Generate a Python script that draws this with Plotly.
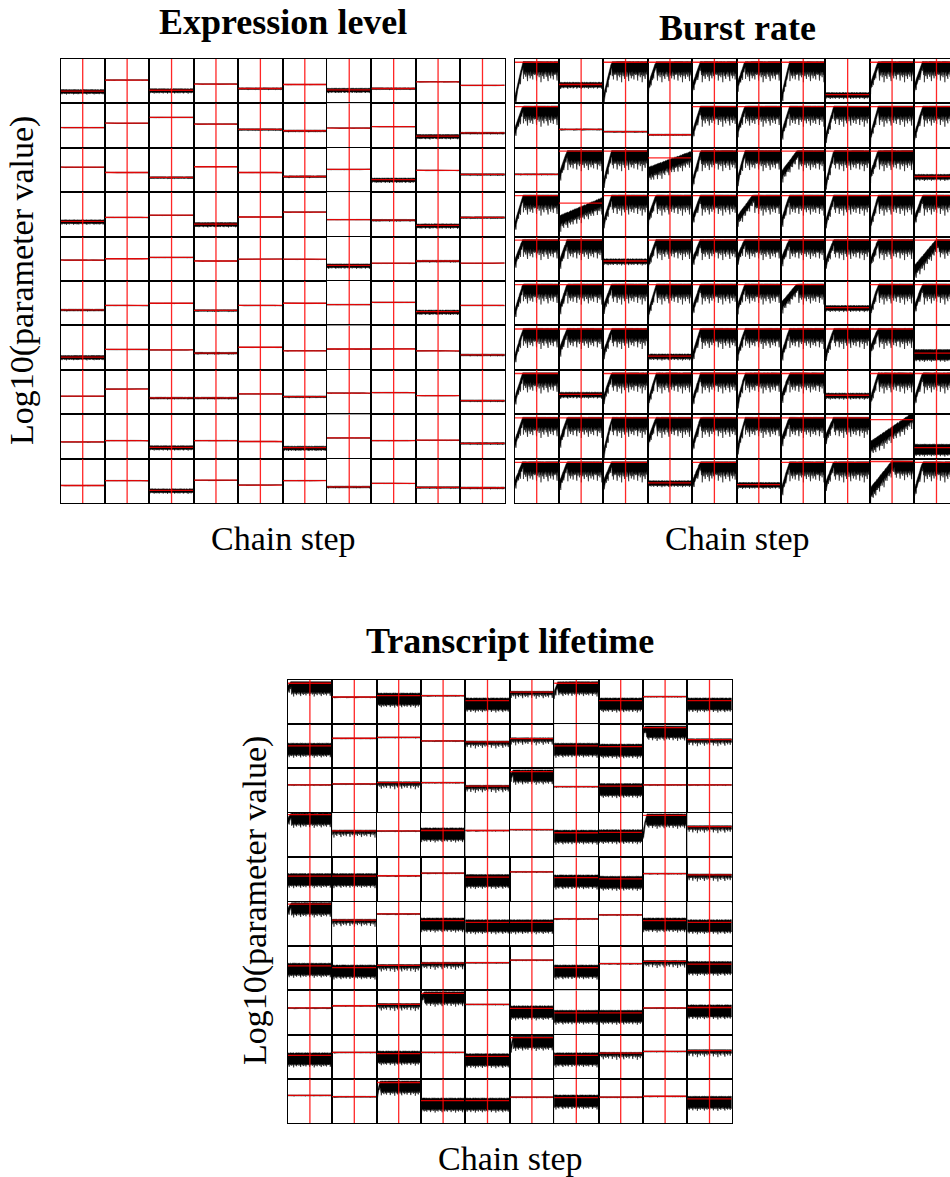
import plotly.graph_objects as go

FIG_W, FIG_H = 950, 1177
N_STEPS = 20000          # length of each MCMC chain
BURN_IN = 10000          # burn-in cut (vertical red line)

# ---------------------------------------------------------------------------
# Data: true parameter values (fraction of the shared log10 axis range) and
# the observed behaviour of each chain, for 10 x 10 genes per parameter.
# ---------------------------------------------------------------------------

EXPR_TRUE = [
    [0.27, 0.52, 0.29, 0.43, 0.33, 0.42, 0.30, 0.33, 0.48, 0.40],
    [0.45, 0.55, 0.68, 0.53, 0.41, 0.38, 0.44, 0.47, 0.26, 0.33],
    [0.56, 0.44, 0.33, 0.57, 0.44, 0.35, 0.51, 0.28, 0.49, 0.40],
    [0.34, 0.43, 0.48, 0.28, 0.44, 0.55, 0.38, 0.37, 0.25, 0.43],
    [0.47, 0.50, 0.53, 0.45, 0.49, 0.49, 0.35, 0.40, 0.45, 0.40],
    [0.35, 0.45, 0.50, 0.34, 0.45, 0.50, 0.47, 0.52, 0.31, 0.45],
    [0.29, 0.46, 0.45, 0.38, 0.51, 0.43, 0.47, 0.47, 0.43, 0.34],
    [0.41, 0.57, 0.37, 0.37, 0.46, 0.40, 0.48, 0.49, 0.42, 0.31],
    [0.38, 0.41, 0.26, 0.41, 0.39, 0.25, 0.47, 0.41, 0.42, 0.35],
    [0.40, 0.51, 0.29, 0.52, 0.41, 0.51, 0.37, 0.45, 0.36, 0.35],
]
# t = tight chain, m = moderate spread, n = noisy chain
EXPR_KIND = [
    "ntntmtnmtt",
    "ttttmmttnm",
    "ttmttmtntm",
    "nttntttmnm",
    "ttttttntmt",
    "mttmttttnt",
    "nttmtttttm",
    "ttmmtmtttm",
    "ttnttntttm",
    "ttntttmtmm",
]

BURST_TRUE = [
    [0.92, 0.42, 0.92, 0.92, 0.92, 0.92, 0.92, 0.19, 0.92, 0.92],
    [0.92, 0.41, 0.36, 0.29, 0.92, 0.92, 0.92, 0.92, 0.92, 0.92],
    [0.40, 0.92, 0.92, 0.77, 0.92, 0.92, 0.92, 0.92, 0.92, 0.35],
    [0.92, 0.75, 0.92, 0.92, 0.92, 0.92, 0.92, 0.92, 0.92, 0.92],
    [0.92, 0.92, 0.45, 0.92, 0.92, 0.92, 0.92, 0.92, 0.92, 0.92],
    [0.92, 0.92, 0.92, 0.92, 0.92, 0.92, 0.92, 0.40, 0.92, 0.92],
    [0.92, 0.92, 0.92, 0.31, 0.92, 0.92, 0.92, 0.92, 0.92, 0.38],
    [0.92, 0.45, 0.92, 0.92, 0.92, 0.92, 0.92, 0.43, 0.92, 0.92],
    [0.92, 0.92, 0.92, 0.92, 0.92, 0.92, 0.92, 0.92, 0.88, 0.25],
    [0.92, 0.92, 0.92, 0.46, 0.92, 0.42, 0.92, 0.92, 0.94, 0.92],
]
# value of each chain at step 0
BURST_START = [
    [0.05, 0.42, 0.11, 0.34, 0.35, 0.35, 0.08, 0.19, 0.35, 0.35],
    [0.36, 0.41, 0.36, 0.29, 0.30, 0.32, 0.25, 0.21, 0.21, 0.25],
    [0.40, 0.35, 0.20, 0.47, 0.20, 0.20, 0.39, 0.16, 0.35, 0.35],
    [0.23, 0.38, 0.30, 0.38, 0.38, 0.38, 0.30, 0.30, 0.23, 0.38],
    [0.40, 0.37, 0.45, 0.37, 0.44, 0.48, 0.44, 0.40, 0.40, 0.26],
    [0.27, 0.34, 0.38, 0.23, 0.34, 0.34, 0.45, 0.40, 0.27, 0.38],
    [0.25, 0.40, 0.36, 0.31, 0.29, 0.29, 0.29, 0.32, 0.44, 0.38],
    [0.31, 0.45, 0.35, 0.24, 0.28, 0.20, 0.35, 0.43, 0.28, 0.31],
    [0.34, 0.34, 0.12, 0.38, 0.27, 0.16, 0.38, 0.46, 0.30, 0.25],
    [0.44, 0.40, 0.44, 0.46, 0.44, 0.42, 0.25, 0.40, 0.25, 0.25],
]
# r = burn-in then converged, s = slower burn-in, e = slow climb to plateau,
# d = drifting over the whole chain, f/g/h = stationary (tight / noisy / very noisy)
BURST_KIND = [
    "rgrrrrrgrr",
    "rfffrrrrrr",
    "frrdrrsrrg",
    "rdrrrsrrrr",
    "rrgrrrrrre",
    "rrrrrrsgrr",
    "rrrgrrrrrh",
    "rgrrrrrgrr",
    "rrrrrrrrdh",
    "rrrgrgrrer",
]
# level reached at the last step by the drifting chains
BURST_DRIFT_END = {(2, 3): 0.84, (3, 1): 0.80, (8, 8): 0.98}

LIFE_TRUE = [
    [0.92, 0.61, 0.64, 0.64, 0.53, 0.72, 0.92, 0.53, 0.62, 0.53],
    [0.51, 0.68, 0.70, 0.62, 0.60, 0.67, 0.51, 0.49, 0.92, 0.65],
    [0.63, 0.65, 0.68, 0.68, 0.60, 0.93, 0.59, 0.60, 0.63, 0.63],
    [0.96, 0.59, 0.59, 0.60, 0.60, 0.62, 0.55, 0.56, 0.94, 0.69],
    [0.57, 0.57, 0.58, 0.64, 0.55, 0.67, 0.54, 0.51, 0.63, 0.60],
    [0.94, 0.58, 0.72, 0.57, 0.53, 0.53, 0.61, 0.70, 0.57, 0.53],
    [0.55, 0.51, 0.56, 0.61, 0.62, 0.68, 0.51, 0.60, 0.65, 0.59],
    [0.60, 0.65, 0.68, 0.93, 0.68, 0.59, 0.49, 0.49, 0.60, 0.61],
    [0.53, 0.60, 0.57, 0.60, 0.51, 0.93, 0.53, 0.58, 0.62, 0.64],
    [0.63, 0.60, 0.92, 0.51, 0.51, 0.59, 0.58, 0.59, 0.61, 0.55],
]
# t = tight, m = occasional excursions, n = heavy lower tail, p = pinned near the top
LIFE_KIND = [
    "ptntnmpntn",
    "ntttmmnnpm",
    "ttmtmptntt",
    "pmtnttnnpm",
    "nnttntnntm",
    "pmtnnnttnn",
    "nnmmttntmn",
    "ttmptnnntn",
    "ntntnpnmtm",
    "ttpnntnttn",
]
# step-0 values of the chains pinned near the top
LIFE_START = {(0, 0): 0.80, (0, 6): 0.68, (1, 8): 0.85, (2, 5): 0.78, (3, 0): 0.82,
              (3, 8): 0.50, (5, 0): 0.78, (7, 3): 0.80, (8, 5): 0.60, (9, 2): 0.60}

# relative depth of the downward excursions along a chain, and top-edge ripple
SPIKE_PATTERN = [0.10, 0.30, 0.05, 0.15, 0.85, 0.20, 0.00, 0.40, 0.15, 0.05,
                 0.25, 0.55, 0.10, 0.05, 0.35, 0.00, 1.00, 0.15, 0.05, 0.20,
                 0.45, 0.00, 0.25, 0.10, 0.70, 0.05, 0.15, 0.30, 0.00, 0.10,
                 0.50, 0.15, 0.05, 0.35, 0.10, 0.90, 0.00, 0.20, 0.10, 0.40,
                 0.05, 0.15, 0.65, 0.10, 0.00, 0.30, 0.45, 0.20, 0.05, 0.75,
                 0.10, 0.25, 0.00, 0.35, 0.15]
TOP_PATTERN = [0.9, 1.0, 0.7, 1.0, 0.8, 0.95, 0.6, 1.0, 0.85, 0.9, 1.0, 0.75,
               0.95, 0.5, 1.0, 0.9, 0.8, 1.0, 0.7, 0.95, 1.0, 0.85, 0.65]

# ---------------------------------------------------------------------------
# Band styles per chain behaviour
# ---------------------------------------------------------------------------
def style(rise=0.0, ramp=0.0, up=0.01, down=0.01, spike=0.0, tspike=0.0, cap=False):
    return dict(rise=rise, ramp=ramp, up=up, down=down, spike=spike, tspike=tspike, cap=cap)

EXPR_STYLES = {
    "t": style(up=0.006, down=0.006, spike=0.004),
    "m": style(up=0.015, down=0.02, spike=0.012),
    "n": style(up=0.035, down=0.045, spike=0.03),
}
BURST_STYLES = {
    "r": style(rise=0.2, ramp=0.07, up=0.015, down=0.2, spike=0.25, tspike=0.14, cap=True),
    "s": style(rise=0.4, ramp=0.07, up=0.015, down=0.2, spike=0.25, tspike=0.16, cap=True),
    "e": style(rise=0.55, ramp=0.09, up=0.015, down=0.2, spike=0.22, tspike=0.2, cap=True),
    "d": style(rise=1.0, ramp=0.09, up=0.09, down=0.09, spike=0.15, tspike=0.2),
    "f": style(up=0.012, down=0.012, spike=0.01),
    "g": style(up=0.05, down=0.05, spike=0.05),
    "h": style(up=0.08, down=0.14, spike=0.06),
}
LIFE_STYLES = {
    "t": style(up=0.008, down=0.01, spike=0.01),
    "m": style(up=0.02, down=0.03, spike=0.12),
    "n": style(up=0.06, down=0.19, spike=0.08),
    "p": style(rise=0.08, ramp=0.06, up=0.035, down=0.2, spike=0.1, tspike=0.1, cap=True),
}

N_KNOTS = 120


def envelope(st, start, end, shift):
    """Upper/lower envelope of a chain trace, returned as a closed polygon."""
    xs, hi, lo = [], [], []
    for j in range(N_KNOTS):
        f = j / (N_KNOTS - 1)
        s = SPIKE_PATTERN[(j + shift) % len(SPIKE_PATTERN)]
        t = TOP_PATTERN[(j + 3 * shift) % len(TOP_PATTERN)]
        if f < st["rise"]:
            v = start + (end - start) * f / st["rise"]
            h = v + st["ramp"] * (0.4 + 0.6 * t)
            if st["cap"]:
                h = min(h, end + st["up"])
            l = v - st["ramp"] - st["tspike"] * s
        else:
            h = end + st["up"] * (0.5 + 0.5 * t)
            l = end - st["down"] - st["spike"] * s
        xs.append(f * N_STEPS)
        hi.append(h)
        lo.append(l)
    return xs + xs[::-1] + [xs[0]], hi + lo[::-1] + [hi[0]]


AXIS_STYLE = dict(showticklabels=False, ticks="", showgrid=False, zeroline=False,
                  showline=True, linecolor="black", linewidth=1, fixedrange=True)

traces = []
layout = dict(width=FIG_W, height=FIG_H, margin=dict(l=0, r=0, t=0, b=0),
              paper_bgcolor="white", plot_bgcolor="white", showlegend=False,
              template="none")
panel = [0]


def add_panel(left, top, w, h, truth, st, start, end, shift):
    panel[0] += 1
    k = panel[0]
    xa = "x" if k == 1 else f"x{k}"
    ya = "y" if k == 1 else f"y{k}"
    right = left + w
    visible = 1.0
    clipped = right > FIG_W
    if clipped:
        visible = (FIG_W - left) / w
        right = FIG_W
    px, py = envelope(st, start, end, shift)
    traces.append(go.Scatter(x=px, y=py, xaxis=xa, yaxis=ya, mode="lines",
                             fill="toself", fillcolor="black",
                             line=dict(color="black", width=0.5), hoverinfo="skip"))
    traces.append(go.Scatter(x=[0, N_STEPS, None, BURN_IN, BURN_IN],
                             y=[truth, truth, None, 0, 1], xaxis=xa, yaxis=ya,
                             mode="lines", line=dict(color="rgba(255,0,0,0.85)", width=1.3),
                             hoverinfo="skip"))
    layout["xaxis" if k == 1 else f"xaxis{k}"] = dict(
        domain=[left / FIG_W, right / FIG_W], anchor=ya,
        range=[0, N_STEPS * visible], mirror=True, **AXIS_STYLE)
    layout["yaxis" if k == 1 else f"yaxis{k}"] = dict(
        domain=[1 - (top + h) / FIG_H, 1 - top / FIG_H], anchor=xa,
        range=[0, 1], mirror=not clipped, **AXIS_STYLE)


def add_grid(left, top, cell_w, cell_h, truths, kinds, styles, start_of, end_of):
    for r in range(10):
        for c in range(10):
            kind = kinds[r][c]
            truth = truths[r][c]
            add_panel(left + c * cell_w, top + r * cell_h, cell_w, cell_h, truth,
                      styles[kind], start_of(r, c, truth), end_of(r, c, truth),
                      (r * 10 + c) * 11)


add_grid(60.5, 58.7, 44.42, 44.46, EXPR_TRUE, EXPR_KIND, EXPR_STYLES,
         lambda r, c, t: t, lambda r, c, t: t)
add_grid(514.5, 58.7, 44.42, 44.46, BURST_TRUE, BURST_KIND, BURST_STYLES,
         lambda r, c, t: BURST_START[r][c],
         lambda r, c, t: BURST_DRIFT_END.get((r, c), t))
add_grid(287.7, 679.7, 44.4, 44.36, LIFE_TRUE, LIFE_KIND, LIFE_STYLES,
         lambda r, c, t: LIFE_START.get((r, c), t), lambda r, c, t: t)

FONT = "Liberation Serif"


def label(text, x, y, size, angle=0):
    return dict(text=text, x=x / FIG_W, y=1 - y / FIG_H, xref="paper", yref="paper",
                xanchor="center", yanchor="middle", showarrow=False, textangle=angle,
                font=dict(family=FONT, size=size, color="black"))


layout["annotations"] = [
    label("<b>Expression level</b>", 282.5, 22, 36),
    label("<b>Burst rate</b>", 737, 28, 36),
    label("<b>Transcript lifetime</b>", 510, 641, 36),
    label("Chain step", 282.5, 538, 34),
    label("Chain step", 737, 538, 34),
    label("Chain step", 510, 1158, 34),
    label("Log10(parameter value)", 22, 281, 34, -90),
    label("Log10(parameter value)", 255, 901, 34, -90),
]

fig = go.Figure(data=traces, layout=layout)
fig.write_html("out.html")
